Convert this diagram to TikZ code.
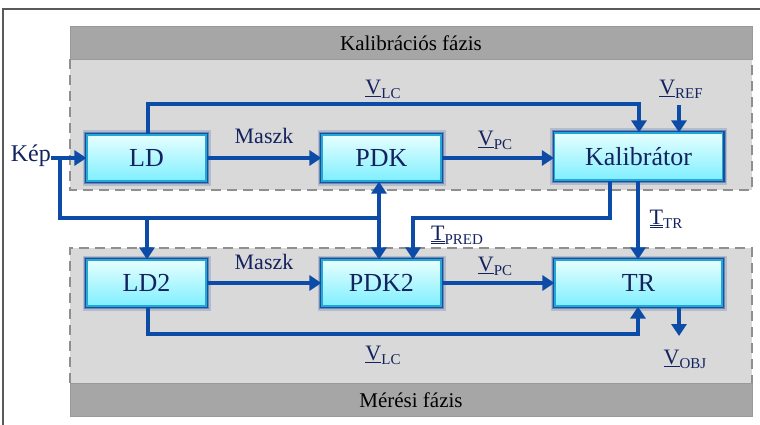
\documentclass[tikz,border=0pt]{standalone}
\usepackage{fontspec}
\setmainfont{Liberation Serif}
\newfontfamily\tnr{Liberation Serif}
\usetikzlibrary{arrows.meta}
\definecolor{arrblue}{HTML}{0D4CA6}
\definecolor{txtnavy}{HTML}{14235F}
\definecolor{darkband}{HTML}{A6A6A6}
\definecolor{lightarea}{HTML}{D9D9D9}
\definecolor{dashgray}{HTML}{8F8F8F}
\definecolor{boxedge}{HTML}{22A8D6}
\definecolor{glowblue}{HTML}{1A4A9A}
\definecolor{boxtop}{HTML}{E6FFFF}
\definecolor{boxbot}{HTML}{7FEFFF}
\newcommand\sublab[2]{\underline{#1}\raisebox{-4pt}{\fontsize{15}{15}\selectfont #2}}
\newcommand\dsublab[2]{\underline{\underline{#1}}\raisebox{-4pt}{\fontsize{15}{15}\selectfont #2}}
\tikzset{
  blk/.style={rectangle, minimum width=119pt, minimum height=46pt, inner sep=0pt,
    draw=boxedge, line width=1.2pt, top color=boxtop, bottom color=boxbot,
    text=txtnavy, font=\tnr\fontsize{26}{26}\selectfont,
    preaction={draw=glowblue, line width=9pt, draw opacity=0.2},
    preaction={draw=glowblue, line width=6pt, draw opacity=0.45},
    preaction={draw=glowblue, line width=4pt, draw opacity=0.95}},
  lab/.style={text=txtnavy, font=\tnr\fontsize{22}{22}\selectfont, inner sep=0pt},
  band/.style={font=\tnr\fontsize{21}{21}\selectfont, text=black, inner sep=0pt},
  arr/.style={draw=arrblue, line width=3.2pt, -{Triangle[length=12pt,width=15pt]}},
  ln/.style={draw=arrblue, line width=3.2pt},
  dsh/.style={draw=dashgray, line width=2.5pt, dash pattern=on 10pt off 6pt}
}
\begin{document}
\begin{tikzpicture}[x=1pt,y=-1pt]
\useasboundingbox (0,0) rectangle (760,425);
\fill[white] (0,0) rectangle (760,425);
% outer frame
\draw[draw=black!65, line width=1.5pt] (3,425) -- (3,9) -- (760,9);
% calibration phase region
\fill[lightarea] (70,59) rectangle (752,190);
\draw[dsh] (70,59) -- (70,190) -- (752,190) -- (752,59);
\fill[darkband, draw=black!40, line width=0.8pt] (70,26) rectangle (752,59);
\node[band] (kalband) at (411,43) {Kalibrációs fázis};
% measurement phase region
\fill[lightarea] (70,248) rectangle (752,383);
\draw[dsh] (70,383) -- (70,248) -- (752,248) -- (752,383);
\fill[darkband, draw=black!40, line width=0.8pt] (70,383) rectangle (752,416);
\node[band] (merband) at (411,400) {Mérési fázis};
% blocks
\node[blk] (ld) at (146.5,158) {LD};
\node[blk] (pdk) at (381.5,158) {PDK};
\node[blk, minimum width=168pt, minimum height=47pt] (kal) at (638.5,156.5) {Kalibrátor};
\node[blk] (ld2) at (146.5,283) {LD2};
\node[blk] (pdk2) at (381.5,283) {PDK2};
\node[blk, minimum width=167pt] (tr) at (638.5,283) {TR};
% input
\node[lab, font=\tnr\fontsize{24}{24}\selectfont, anchor=east] (kep) at (51,156) {Kép};
\coordinate (kj) at (60,158);
\coordinate (b1) at (60,218);
\coordinate (b2) at (147,218);
\coordinate (b3) at (379,218);
\draw[arr] (kep.east |- ld.west) -- (ld.west);
\draw[ln] (kj) -- (b1) -- (b3);
\draw[arr] (b2) -- (b2 |- ld2.north);
\draw[arr] (b3) -- (b3 |- pdk.south);
\draw[arr] (b3) -- (b3 |- pdk2.north);
% upper chain
\draw[arr] (ld.east) -- (pdk.west);
\node[lab] (m1) at (264,136) {Maszk};
\draw[arr] (pdk.east) -- (kal.west |- pdk.east);
\node[lab] (vpc1) at (495,140) {\sublab{V}{PC}};
\coordinate (vlct) at (148,104);
\coordinate (vlce) at (639,104);
\draw[arr] (vlct |- ld.north) -- (vlct) -- (vlce) -- (vlce |- kal.north);
\node[lab] (vlc1) at (383,89) {\sublab{V}{LC}};
\node[lab] (vref) at (681,89) {\sublab{V}{REF}};
\coordinate (vrefs) at (679,105);
\draw[arr] (vrefs) -- (vrefs |- kal.north);
% kalibrator outputs
\coordinate (tp1) at (610,218);
\coordinate (tp2) at (413,218);
\draw[arr] (tp1 |- kal.south) -- (tp1) -- (tp2) -- (tp2 |- pdk2.north);
\node[lab] (tpred) at (457,235) {\dsublab{T}{PRED}};
\coordinate (ttr) at (638,218);
\draw[arr] (ttr |- kal.south) -- (ttr |- tr.north);
\node[lab] (ttrl) at (666,219) {\dsublab{T}{TR}};
% lower chain
\draw[arr] (ld2.east) -- (pdk2.west);
\node[lab] (m2) at (264,262) {Maszk};
\draw[arr] (pdk2.east) -- (tr.west);
\node[lab] (vpc2) at (495,266) {\sublab{V}{PC}};
\coordinate (vlb) at (148,334);
\coordinate (vlbe) at (638,334);
\draw[arr] (vlb |- ld2.south) -- (vlb) -- (vlbe) -- (vlbe |- tr.south);
\node[lab] (vlc2) at (383,355) {\sublab{V}{LC}};
\coordinate (vobj) at (679,336);
\draw[arr] (vobj |- tr.south) -- (vobj);
\node[lab] (vobjl) at (685,359) {\sublab{V}{OBJ}};
\end{tikzpicture}
\end{document}
